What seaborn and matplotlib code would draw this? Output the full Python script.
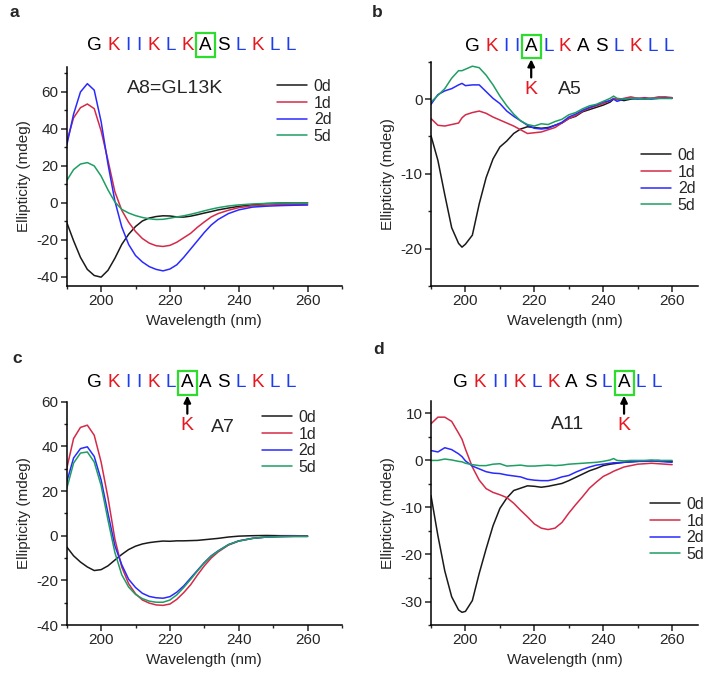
import matplotlib
matplotlib.use("Agg")
import matplotlib.pyplot as plt
import seaborn as sns
import pandas as pd
from matplotlib.ticker import MultipleLocator

days = ['0d', '1d', '2d', '5d']
line_colors = ['#1a1a1a', '#d42a48', '#2a2aff', '#1f9e63']

# panel a (A8 = GL13K)
wl_a = [190, 192, 194, 196, 198, 200, 202, 204, 206, 208, 210, 212, 214, 216, 218,
        220, 222, 224, 226, 228, 230, 232, 234, 237, 240, 244, 248, 252, 256, 260]
a_0d = [-10.5, -20.5, -29.5, -36, -39.3, -40.2, -36.5, -30, -22.5, -17, -12.8, -9.8, -8.2, -7.4, -7,
        -7.1, -7.6, -7.7, -7.2, -6.4, -5.5, -4.7, -3.8, -2.8, -1.9, -1, -0.4, -0.1, 0, 0]
a_1d = [33, 46, 51.5, 53.5, 51, 39, 23, 6, -4, -10.5, -15.5, -19.3, -21.8, -23.2, -23.6,
        -23, -21.3, -18.9, -16.5, -13.2, -10.3, -7.6, -5.8, -4, -2.6, -1.6, -1.2, -0.9, -0.8, -0.7]
a_2d = [31, 48, 60, 64.5, 61, 44, 21, 1, -13, -22.5, -28.5, -32, -34.5, -36, -36.8,
        -35.8, -33.5, -29.5, -25, -20.5, -16, -12, -9, -5.8, -3.8, -2.3, -1.8, -1.5, -1.3, -1.2]
a_5d = [12, 18, 21, 21.8, 20, 14.5, 7, 0.5, -3.5, -5.5, -6.9, -7.9, -8.6, -9, -8.9,
        -8.3, -7.6, -7, -6.2, -5.3, -4.3, -3.4, -2.6, -1.7, -1.1, -0.6, -0.3, -0.1, 0, 0]

# panel b (A5)
wl_b = [190, 192, 194, 196, 198, 199, 200, 202, 204, 206, 208, 210, 212, 214, 216, 218, 220, 222, 224,
        226, 228, 230, 232, 234, 236, 238, 240, 242, 243, 244, 246, 248, 250, 252, 254, 256, 258, 260]
b_0d = [-4.9, -8.2, -12.8, -17.2, -19.3, -19.8, -19.4, -18.2, -14, -10.5, -8, -6.4, -5.6, -4.6, -4, -3.7, -3.8, -3.9, -3.8,
        -3.5, -3.2, -2.6, -2.3, -1.7, -1.4, -1.1, -0.8, -0.4, 0, 0, -0.2, 0, 0.1, 0, 0.1, 0.1, 0.2, 0.1]
b_1d = [-2.6, -3.5, -3.6, -3.4, -3.2, -2.5, -2.1, -1.8, -1.6, -1.9, -2.4, -2.8, -3.2, -3.6, -4.1, -4.6, -4.5, -4.4, -4.1,
        -3.8, -3.2, -2.6, -2.2, -1.6, -1.2, -0.9, -0.6, -0.2, 0.1, -0.1, 0.1, 0.3, 0.1, 0.2, 0.1, 0.3, 0.3, 0.2]
b_2d = [-0.7, 0.6, 1.1, 1.4, 1.9, 2.1, 1.8, 1.9, 1.9, 1.0, 0.1, -0.6, -1.6, -2.3, -2.9, -3.5, -3.9, -4, -3.9,
        -3.5, -3.1, -2.4, -2.0, -1.5, -1.1, -0.8, -0.4, -0.2, 0, -0.3, 0, 0.1, 0, 0.1, 0, 0.1, 0.1, 0.1]
b_5d = [-0.4, 0.5, 1.4, 2.8, 3.8, 3.8, 4.0, 4.4, 4.2, 3.2, 1.9, 0.4, -0.9, -2.0, -2.9, -3.4, -3.6, -3.3, -3.4,
        -3.0, -2.7, -2.1, -1.8, -1.3, -0.9, -0.7, -0.3, 0.1, 0.4, 0.1, 0, 0.1, 0.1, 0, 0.1, 0.1, 0.1, 0.1]

# panel c (A7)
wl_c = wl_a
c_0d = [-5, -9, -11.8, -14, -15.6, -15.2, -13.5, -10.9, -8.4, -6.2, -4.7, -3.7, -3.1, -2.7, -2.4,
        -2.5, -2.3, -2.3, -2.2, -2.1, -1.8, -1.5, -1.2, -0.6, -0.2, 0, 0.1, 0, 0, -0.1]
c_1d = [30, 43.5, 48.5, 49.5, 45, 33, 17, -1.5, -14, -21.5, -26, -28.8, -30.2, -31, -31.2,
        -30.6, -28.5, -25.5, -22, -17.6, -13.5, -10, -7.3, -4.2, -2.4, -1.2, -0.6, -0.4, -0.3, -0.3]
c_2d = [24, 34.8, 39, 39.8, 35.5, 25, 10, -4.5, -13, -19.5, -23.2, -25.8, -27.2, -27.8, -28,
        -27.3, -25.3, -22.5, -19, -15.5, -12, -9, -6.8, -4, -2.3, -1.2, -0.6, -0.4, -0.3, -0.3]
c_5d = [21, 32.5, 37, 37.5, 33, 22.5, 7, -7.5, -17.5, -23, -26.3, -28.2, -29.3, -29.8, -29.8,
        -28.8, -26.5, -23.2, -19.6, -15.8, -12.2, -9.2, -6.9, -4, -2.4, -1.2, -0.6, -0.4, -0.3, -0.3]

# panel d (A11)
wl_d = wl_b
d_0d = [-7.5, -16, -23.5, -29, -31.8, -32.3, -32.1, -29.8, -24, -18.8, -13.9, -10.2, -8, -6.4, -5.9, -5.4, -5.5, -5.7, -5.5,
        -5.2, -4.9, -4.3, -3.6, -2.9, -2.2, -1.7, -1.1, -0.8, -0.7, -0.6, -0.4, -0.3, -0.2, -0.1, -0.1, 0, -0.2, -0.2]
d_1d = [7.8, 9.2, 9.2, 8.3, 5.8, 4.5, 2.4, -1.4, -4.2, -6, -6.8, -7.3, -7.9, -9.1, -10.6, -12, -13.5, -14.4, -14.7,
        -14.4, -13.2, -11.2, -9.4, -7.7, -5.9, -4.6, -3.4, -2.7, -2.3, -2, -1.4, -1.1, -0.8, -0.7, -0.6, -0.7, -0.8, -0.9]
d_2d = [2.1, 1.8, 2.7, 2.3, 1.4, 0.8, -0.1, -1.2, -1.8, -2.4, -2.7, -2.8, -3.1, -3.3, -3.5, -4, -4.2, -4.3, -4.3,
        -4.0, -3.5, -3.2, -2.5, -1.9, -1.4, -1.0, -0.8, -0.6, -0.5, -0.5, -0.4, -0.3, -0.2, -0.2, -0.1, -0.2, -0.3, -0.4]
d_5d = [0, 0, 0.3, 0.1, -0.2, -0.3, -0.6, -0.9, -1.1, -1.1, -0.8, -0.7, -1.2, -1.1, -1.0, -1.2, -1.2, -1.1, -1.0,
        -1.1, -1.0, -0.8, -0.7, -0.6, -0.5, -0.4, -0.2, 0.1, 0.4, 0, -0.1, 0, 0, 0, 0.1, 0, 0, 0]

seq_a = "GKIIKLKASLKLL"
seq_b = "GKIIALKASLKLL"
seq_c = "GKIIKLAASLKLL"
seq_d = "GKIIKLKASLALL"
letter_colors = {'K': '#e8161e', 'I': '#1c3cf0', 'L': '#1c3cf0', 'G': 'black', 'A': 'black', 'S': 'black'}

sns.set_style('ticks')
plt.rcParams['font.family'] = ['Liberation Sans', 'DejaVu Sans']
plt.rcParams['axes.unicode_minus'] = False

fig = plt.figure(figsize=(7.11, 6.73), dpi=100)


def long_df(wl, series):
    parts = [pd.DataFrame({'Wavelength': wl, 'Ellipticity': v, 'day': d}) for d, v in zip(days, series)]
    return pd.concat(parts, ignore_index=True)


def draw_sequence(ax, x0, y0, seq, boxed):
    prev = None
    boxed_text = None
    for i, ch in enumerate(seq):
        kw = dict(fontsize=13.6, color=letter_colors[ch])
        if i == boxed:
            kw['bbox'] = dict(boxstyle='square,pad=0.17', fc='none', ec='#2edc2e', lw=1.6)
        if prev is None:
            t = ax.annotate(ch, xy=(x0, y0), xycoords='axes fraction', ha='left', va='center', **kw)
        else:
            t = ax.annotate(ch, xy=(1, 0), xycoords=prev, xytext=(4.0, 0), textcoords='offset points',
                            ha='left', va='bottom', **kw)
        if i == boxed:
            boxed_text = t
        prev = t
    return boxed_text


def mark_mutation(ax, a_text):
    ax.annotate('', xy=(0.5, 0), xycoords=a_text, xytext=(0, -16), textcoords='offset points',
                arrowprops=dict(arrowstyle='-|>', color='black', lw=1.6, shrinkA=0, shrinkB=3,
                                mutation_scale=10))
    ax.annotate('K', xy=(0.5, 0), xycoords=a_text, xytext=(0, -18.5), textcoords='offset points',
                ha='center', va='top', fontsize=14, color='#e8161e')


panels = [
    dict(pos=[0.0938, 0.575, 0.3872, 0.3254], wl=wl_a, data=[a_0d, a_1d, a_2d, a_5d],
         xlim=(190, 270), ylim=(-45, 73.5), ymaj=20, ymin=10, leg=(0.764, 0.945),
         seq=seq_a, box=7, seqpos=(0.074, 1.100), mut=False, label='A8=GL13K', labpos=(0.393, 0.904)),
    dict(pos=[0.6062, 0.575, 0.3755, 0.3333], wl=wl_b, data=[b_0d, b_1d, b_2d, b_5d],
         xlim=(190, 267.5), ylim=(-25, 5), ymaj=10, ymin=5, leg=(0.787, 0.615),
         seq=seq_b, box=4, seqpos=(0.127, 1.067), mut=True, label='A5', labpos=(0.521, 0.875)),
    dict(pos=[0.0938, 0.0713, 0.3872, 0.3318], wl=wl_c, data=[c_0d, c_1d, c_2d, c_5d],
         xlim=(190, 270), ylim=(-40, 60), ymaj=20, ymin=10, leg=(0.709, 0.963),
         seq=seq_c, box=6, seqpos=(0.074, 1.084), mut=True, label='A7', labpos=(0.568, 0.885)),
    dict(pos=[0.6062, 0.0713, 0.3755, 0.3333], wl=wl_d, data=[d_0d, d_1d, d_2d, d_5d],
         xlim=(190, 267.5), ylim=(-35, 12.7), ymaj=10, ymin=5, leg=(0.82, 0.571),
         seq=seq_d, box=10, seqpos=(0.084, 1.079), mut=True, label='A11', labpos=(0.513, 0.895)),
]

for p in panels:
    ax = fig.add_axes(p['pos'])
    df = long_df(p['wl'], p['data'])
    sns.lineplot(data=df, x='Wavelength', y='Ellipticity', hue='day', palette=line_colors,
                 estimator=None, linewidth=1.1, legend=False, ax=ax)
    ax.set_xlim(*p['xlim'])
    ax.set_ylim(*p['ylim'])
    ax.xaxis.set_major_locator(MultipleLocator(20))
    ax.xaxis.set_minor_locator(MultipleLocator(10))
    ax.yaxis.set_major_locator(MultipleLocator(p['ymaj']))
    ax.yaxis.set_minor_locator(MultipleLocator(p['ymin']))
    ax.tick_params(which='major', direction='out', length=4, width=1.1, labelsize=11, pad=2)
    ax.tick_params(which='minor', direction='out', length=2.5, width=1.0)
    sns.despine(ax=ax)
    for s in ('left', 'bottom'):
        ax.spines[s].set_linewidth(1.1)
        ax.spines[s].set_color('black')
    ax.set_xlabel('Wavelength (nm)', fontsize=11)
    ax.set_ylabel('Ellipticity (mdeg)', fontsize=11)
    ax.legend(ax.lines[:4], days, loc='upper left', bbox_to_anchor=p['leg'], frameon=False,
              fontsize=11.5, handlelength=1.9, handletextpad=0.4, labelspacing=0.1,
              borderpad=0, borderaxespad=0)
    a_text = draw_sequence(ax, p['seqpos'][0], p['seqpos'][1], p['seq'], p['box'])
    if p['mut']:
        mark_mutation(ax, a_text)
    ax.text(p['labpos'][0], p['labpos'][1], p['label'], transform=ax.transAxes,
            ha='center', va='center', fontsize=14)

for letter, (x, y) in zip('abcd', [(0.014, 0.981), (0.523, 0.981), (0.017, 0.468), (0.525, 0.480)]):
    fig.text(x, y, letter, fontsize=12.5, fontweight='bold', ha='left', va='center')

fig.savefig('out.png', dpi=100)
